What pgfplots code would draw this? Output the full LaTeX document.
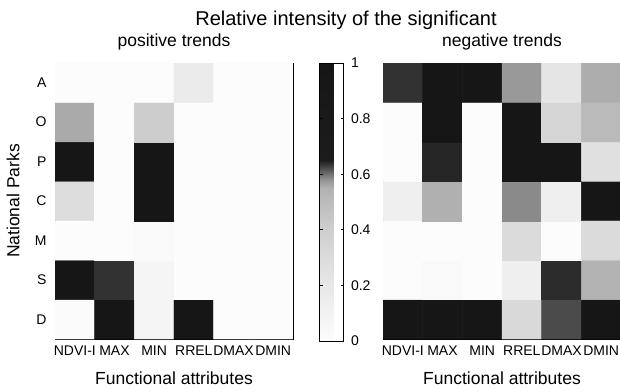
\documentclass[border=0pt]{standalone}
\usepackage{pgfplots}
\pgfplotsset{compat=1.18}
\usepackage{fontspec}
\setmainfont{Liberation Sans}

\pgfplotsset{
  colormap={mlgray}{gray(0pt)=(0.99); gray(20pt)=(0.91); gray(40pt)=(0.81); gray(55pt)=(0.70); gray(58pt)=(0.58); gray(61pt)=(0.38); gray(65pt)=(0.11); gray(100pt)=(0.085)},
  heat/.style={
    scale only axis, width=238pt, height=276pt,
    anchor=south west,
    xmin=-0.5, xmax=5.5, ymin=-0.5, ymax=6.5, enlargelimits=false,
    xtick={0,...,5}, ytick={0,...,6},
    xticklabels={NDVI-I,MAX,MIN,RREL,DMAX,DMIN},
    tick align=inside, tick pos=both,
    major tick length=4pt,
    colormap name=mlgray, point meta min=0, point meta max=1,
    tick label style={font=\fontsize{14}{16}\selectfont},
    xticklabel style={yshift=-3pt},
    yticklabel style={xshift=-5pt},
    axis line style={line width=0.6pt},
    every tick/.style={black, line width=0.6pt},
    title style={font=\fontsize{17.5}{20}\selectfont, at={(axis description cs:0.5,1)}, anchor=base, yshift=11pt},
    label style={font=\fontsize{17.5}{20}\selectfont},
    xlabel={Functional attributes},
    xlabel style={at={(axis description cs:0.5,0)}, anchor=base, yshift=-45pt},
  }
}

\begin{document}
\begin{tikzpicture}
\useasboundingbox (0pt,0pt) rectangle (620pt,391pt);

\begin{axis}[heat,
  at={(55pt,52pt)},
  title={positive trends},
  yticklabels={D,S,M,C,P,O,A},
  ylabel={National Parks},
  ylabel style={at={(axis description cs:-0.15,0.5)}, anchor=base},
  colorbar,
  colorbar style={
    scale only axis,
    at={(parent axis.south east)}, anchor=south west,
    xshift=18pt, yshift=-2pt,
    width=24pt, height=278pt,
    ytick={0,0.2,0.4,0.6,0.8,1},
    yticklabels={0,0.2,0.4,0.6,0.8,1},
    tick align=inside, major tick length=3pt,
    ytick pos=both, yticklabel pos=right,
    yticklabel style={font=\fontsize{14}{16}\selectfont, xshift=4pt},
    axis line style={line width=0.6pt},
  },
]
\addplot[matrix plot*, point meta=explicit, mesh/cols=6] table[meta=v] {
x y v
0 0 0.01
1 0 1
2 0 0.07
3 0 1
4 0 0
5 0 0
0 1 1
1 1 0.637
2 1 0.07
3 1 0
4 1 0
5 1 0
0 2 0
1 2 0
2 2 0.03
3 2 0
4 2 0
5 2 0
0 3 0.29
1 3 0
2 3 1
3 3 0
4 3 0
5 3 0
0 4 1
1 4 0
2 4 1
3 4 0
4 4 0
5 4 0
0 5 0.558
1 5 0
2 5 0.41
3 5 0
4 5 0
5 5 0
0 6 0
1 6 0
2 6 0
3 6 0.17
4 6 0
5 6 0
};
\end{axis}

\begin{axis}[heat,
  at={(383pt,52pt)},
  title={negative trends},
  yticklabels={},
]
\addplot[matrix plot*, point meta=explicit, mesh/cols=6] table[meta=v] {
x y v
0 0 1
1 0 1
2 0 1
3 0 0.32
4 0 0.623
5 0 1
0 1 0
1 1 0.03
2 1 0
3 1 0.13
4 1 0.641
5 1 0.545
0 2 0
1 2 0
2 2 0
3 2 0.3
4 2 0
5 2 0.3
0 3 0.13
1 3 0.552
2 3 0
3 3 0.586
4 3 0.13
5 3 1
0 4 0
1 4 0.644
2 4 0
3 4 1
4 4 1
5 4 0.26
0 5 0
1 5 1
2 5 0
3 5 1
4 5 0.35
5 5 0.51
0 6 0.637
1 6 1
2 6 1
3 6 0.575
4 6 0.22
5 6 0.555
};
\end{axis}

\node[font=\fontsize{20}{23}\selectfont, anchor=base] at (346pt,365pt) {Relative intensity of the significant};
\end{tikzpicture}
\end{document}
